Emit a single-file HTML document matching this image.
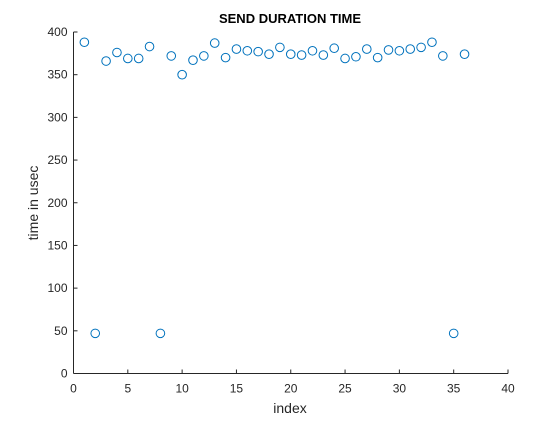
<!DOCTYPE html>
<html><head><meta charset="utf-8"><style>
body{margin:0;background:#fff;width:560px;height:420px;overflow:hidden}
text{font-family:"Liberation Sans",sans-serif}
</style></head><body>
<svg id="chart" width="560" height="420" xmlns="http://www.w3.org/2000/svg">
<rect width="560" height="420" fill="#fff"/>
<g id="axes"></g>
<g id="pts"></g>
<text x="290" y="23" text-anchor="middle" font-size="13" font-weight="bold" fill="#000">SEND DURATION TIME</text>
<text x="290" y="413" text-anchor="middle" font-size="14" fill="#262626">index</text>
<text transform="translate(38,203) rotate(-90)" text-anchor="middle" font-size="14" fill="#262626">time in usec</text>
</svg>
<script>
const xs=[1,2,3,4,5,6,7,8,9,10,11,12,13,14,15,16,17,18,19,20,21,22,23,24,25,26,27,28,29,30,31,32,33,34,35,36];
const ys=[388,47,366,376,369,369,383,47,372,350,367,372,387,370,380,378,377,374,382,374,373,378,373,381,369,371,380,370,379,378,380,382,388,372,47,374];
const xTicks=[0,5,10,15,20,25,30,35,40];
const yTicks=[0,50,100,150,200,250,300,350,400];
const L=73.5,R=508,T=32,B=373.5;
const sx=v=>L+(v-0)/40*(R-L);
const sy=v=>B-(v-0)/400*(B-T);
const NS="http://www.w3.org/2000/svg";
const ax=document.getElementById('axes'),pg=document.getElementById('pts');
function mk(tag,at,par){const e=document.createElementNS(NS,tag);for(const k in at)e.setAttribute(k,at[k]);par.appendChild(e);return e;}
const xl=mk('line',{x1:L,x2:R,y1:B,y2:B,stroke:'#262626','stroke-width':1},ax);


const yl=mk('line',{x1:L,x2:L,y1:T,y2:B,stroke:'#262626','stroke-width':1},ax);


xTicks.forEach(t=>{const x=sx(t);
mk('line',{x1:x,x2:x,y1:B,y2:B-4,stroke:'#262626'},ax);
const tx=mk('text',{x:x,y:B+19,'text-anchor':'middle','font-size':12,fill:'#262626'},ax);tx.textContent=t;

});
yTicks.forEach(t=>{const y=sy(t);
mk('line',{x1:L,x2:L+4,y1:y,y2:y,stroke:'#262626'},ax);
const tx=mk('text',{x:L-6,y:y+4,'text-anchor':'end','font-size':12,fill:'#262626'},ax);tx.textContent=t;

});
xs.forEach((x,i)=>{const c=mk('circle',{cx:sx(x),cy:sy(ys[i]),r:4.3,fill:'none',stroke:'#0072bd','stroke-width':1},pg);

});
</script>
</body></html>
